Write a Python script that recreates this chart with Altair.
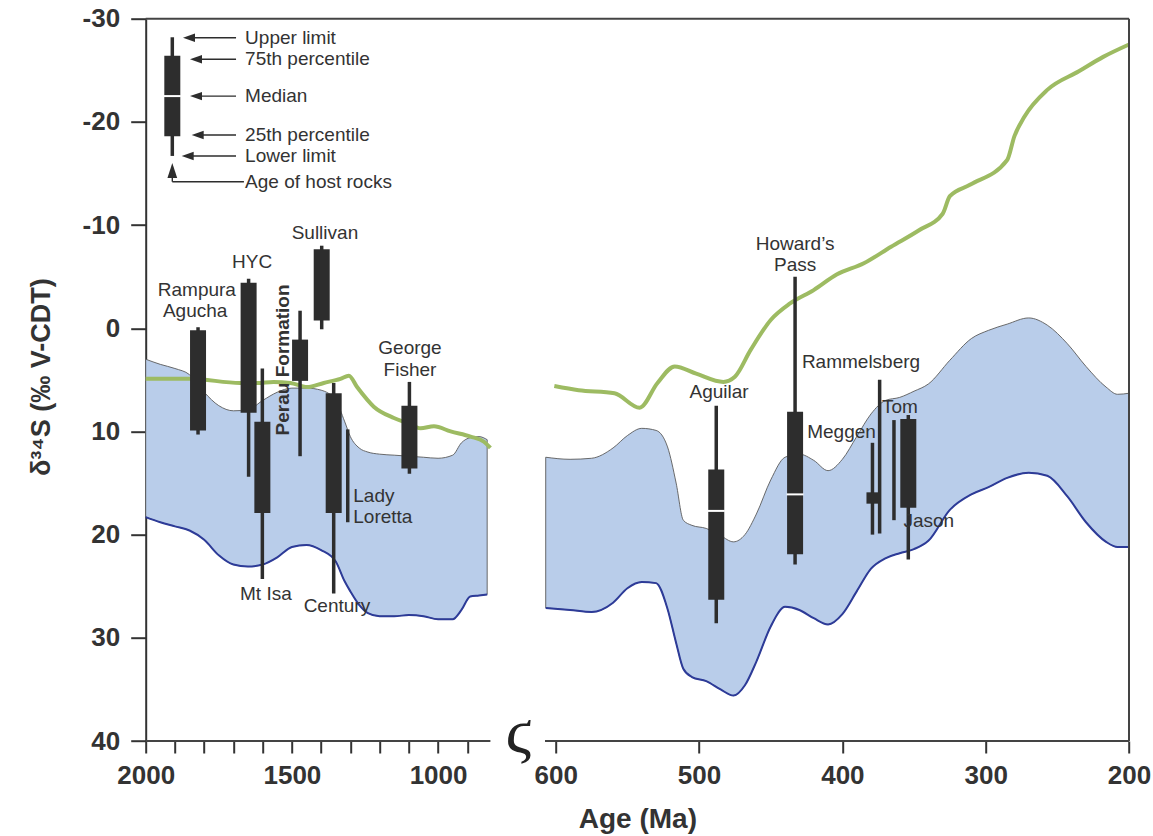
import altair as alt
import pandas as pd

FONT = "Liberation Sans"
INK = "#333333"
BOX = "#2d2d2d"

# ---------------------------------------------------------------- data
# seawater-sulfate band, Proterozoic segment
band_old_age = [2000, 1950, 1900, 1850, 1800, 1750, 1700, 1650, 1600, 1550, 1500, 1450,
                1400, 1350, 1320, 1300, 1270, 1240, 1200, 1150, 1100, 1050, 1000, 950,
                920, 890, 860, 832]
band_old_top = [3.0, 3.5, 3.9, 4.5, 6.2, 7.5, 8.0, 7.9, 7.0, 6.2, 5.8, 5.8,
                6.0, 7.0, 9.0, 10.5, 11.6, 12.0, 12.2, 12.3, 12.4, 12.5, 12.6, 12.3,
                11.1, 10.6, 10.5, 10.8]
band_old_bot = [18.3, 18.8, 19.2, 19.6, 20.5, 22.0, 22.9, 23.1, 22.9, 22.2, 21.2, 21.0,
                21.5, 22.6, 24.5, 25.5, 26.8, 27.6, 27.9, 27.9, 27.8, 27.9, 28.2, 28.2,
                27.3, 26.0, 25.9, 25.8]

# seawater-sulfate band, Phanerozoic segment
band_young_age = [607, 590, 575, 560, 550, 540, 530, 522, 516, 511, 505, 495, 485, 476,
                  468, 460, 450, 440, 430, 420, 410, 400, 390, 380, 370, 360, 350, 340,
                  325, 310, 298, 285, 270, 257, 243, 230, 216, 208, 200]
band_young_top = [12.5, 12.7, 12.6, 11.6, 10.4, 9.7, 9.9, 11.5, 15.0, 18.6, 19.1, 19.4,
                  20.1, 20.7, 20.0, 18.0, 14.7, 12.5, 12.2, 12.8, 13.8, 12.7, 10.5, 8.3,
                  7.0, 6.7, 6.1, 5.4, 3.1, 1.0, 0.2, -0.4, -1.0, -0.3, 1.5, 3.7, 5.7,
                  6.4, 6.3]
band_young_bot = [27.1, 27.3, 27.5, 26.6, 25.2, 24.6, 24.7, 27.2, 30.5, 33.0, 33.8, 34.2,
                  35.0, 35.6, 34.6, 32.3, 28.9, 27.0, 27.3, 28.1, 28.7, 27.7, 25.5, 23.3,
                  22.3, 21.8, 21.4, 20.6, 17.6, 16.1, 15.4, 14.5, 14.0, 14.3, 16.3, 18.8,
                  20.7, 21.2, 21.2]

# green curve
green_old_age = [2000, 1848, 1677, 1619, 1563, 1505, 1448, 1391, 1334, 1305, 1277, 1220,
                 1151, 1105, 1060, 1014, 957, 889, 843, 821]
green_old_val = [4.9, 4.9, 5.3, 5.3, 5.2, 5.3, 5.7, 5.3, 4.9, 4.6, 5.7, 7.6,
                 8.7, 9.2, 9.7, 9.5, 10.0, 10.5, 11.0, 11.6]
green_young_age = [601, 584, 559, 541.5, 529, 517, 502, 483, 475, 464, 450, 436.5, 420,
                   404, 385, 366, 346.5, 330, 325, 311, 285, 280, 273, 257, 235, 218, 200]
green_young_val = [5.6, 6.0, 6.3, 7.7, 5.3, 3.7, 4.4, 5.2, 4.7, 2.1, -0.8, -2.4, -3.7,
                   -5.2, -6.3, -7.9, -9.5, -11.1, -12.8, -13.9, -16.3, -18.6, -20.5,
                   -23.1, -24.9, -26.3, -27.5]

# deposits (first entry is the legend key)
site_name = ["key", "Rampura Agucha", "HYC", "Mt Isa", "Perau Formation", "Sullivan",
             "Century", "Lady Loretta", "George Fisher", "Aguilar", "Howard's Pass",
             "Meggen", "Rammelsberg", "Tom", "Jason"]
site_age = [1909, 1821, 1648, 1601, 1472, 1398, 1357, 1309, 1098, 488, 433, 379, 374, 364, 354]
site_min = [-28.2, -0.1, -4.8, 3.9, -1.7, -8.0, 5.3, 9.8, 5.2, 7.5, -5.0, 11.1, 5.0, 8.9, 8.4]
site_max = [-16.7, 10.3, 14.4, 24.3, 12.4, 0.1, 25.7, 18.8, 14.1, 28.6, 22.9, 20.0, 19.9, 18.6, 22.4]
site_box_top = [-26.4, 0.2, -4.4, 9.05, 1.1, -7.65, 6.3, None, 7.5, 13.7, 8.1, 15.9, None, None, 8.8]
site_box_bot = [-18.6, 9.9, 8.2, 17.9, 5.1, -0.75, 17.9, None, 13.6, 26.3, 21.9, 17.0, None, None, 17.4]
site_median = [-22.5, None, None, None, None, None, None, None, None, 17.7, 16.1, None, None, None, None]
narrow_sites = ["Meggen"]

# deposit labels
label_text = ["Rampura", "Agucha", "HYC", "Sullivan", "George", "Fisher", "Mt Isa", "Century",
              "Aguilar", "Howard\u2019s", "Pass", "Rammelsberg", "Meggen", "Tom", "Jason"]
label_age = [1825, 1831, 1636, 1387, 1096, 1096, 1589, 1346, 486, 433, 433, 387, 400.6, 359.8, 339.7]
label_val = [-3.71, -1.68, -6.38, -9.28, 1.96, 4.04, 25.75, 26.96, 6.22, -8.17, -6.13, 3.31,
             10.1, 7.63, 18.72]
left_label_text = ["Lady", "Loretta"]
left_label_age = [1290, 1290]
left_label_val = [16.25, 18.28]
rot_label_text = ["Perau Formation"]
rot_label_age = [1532]
rot_label_val = [3.07]

# legend key annotations
key_text = ["Upper limit", "75th percentile", "Median", "25th percentile", "Lower limit",
            "Age of host rocks"]
key_text_age = [1660, 1660, 1660, 1660, 1660, 1660]
key_text_val = [-28.16, -26.07, -22.5, -18.73, -16.7, -14.2]
key_arrow_head_age = [1851.9, 1828, 1828, 1822.2, 1856.4]
key_arrow_tail_age = [1691, 1691, 1691, 1691, 1691]
key_arrow_val = [-28.16, -26.07, -22.5, -18.73, -16.7]
host_arrow_age = [1909]
host_arrow_val = [-15.3]
host_line_x1 = [1909, 1909]
host_line_x2 = [1909, 1664]
host_line_y1 = [-14.6, -14.2]
host_line_y2 = [-14.2, -14.2]

# axis ticks
x_tick_values = [2000, 1900, 1800, 1700, 1600, 1500, 1400, 1300, 1200, 1100, 1000, 900,
                 600, 500, 400, 300, 200]
x_label_values = [2000, 1500, 1000, 600, 500, 400, 300, 200]
y_tick_values = [-30, -20, -10, 0, 10, 20, 30, 40]

# broken age axis: [old start, old end, young start, young end]
age_breaks = [2000, 821, 607.5, 200]
frame_x1 = [2000, 200, 2000, 607.5]
frame_x2 = [200, 200, 821, 200]
frame_y1 = [-30, -30, 40, 40]
frame_y2 = [-30, 40, 40, 40]

# ---------------------------------------------------------------- tables
band = pd.concat([
    pd.DataFrame({"age": band_old_age, "top": band_old_top, "bot": band_old_bot, "seg": "old"}),
    pd.DataFrame({"age": band_young_age, "top": band_young_top, "bot": band_young_bot, "seg": "young"}),
])
green = pd.concat([
    pd.DataFrame({"age": green_old_age, "val": green_old_val, "seg": "old"}),
    pd.DataFrame({"age": green_young_age, "val": green_young_val, "seg": "young"}),
])
sites = pd.DataFrame({"name": site_name, "age": site_age, "lo": site_min, "hi": site_max,
                      "bt": site_box_top, "bb": site_box_bot, "med": site_median})
boxes = sites.dropna(subset=["bt"])
wide_boxes = boxes[~boxes["name"].isin(narrow_sites)]
narrow_boxes = boxes[boxes["name"].isin(narrow_sites)]
medians = sites.dropna(subset=["med"])
labels = pd.DataFrame({"t": label_text, "age": label_age, "val": label_val})
left_labels = pd.DataFrame({"t": left_label_text, "age": left_label_age, "val": left_label_val})
rot_labels = pd.DataFrame({"t": rot_label_text, "age": rot_label_age, "val": rot_label_val})
key_labels = pd.DataFrame({"t": key_text, "age": key_text_age, "val": key_text_val})
arrows = pd.DataFrame({"head": key_arrow_head_age, "tail": key_arrow_tail_age, "val": key_arrow_val})
host = pd.DataFrame({"age": host_arrow_age, "val": host_arrow_val})
host_lines = pd.DataFrame({"x1": host_line_x1, "x2": host_line_x2, "y1": host_line_y1, "y2": host_line_y2})
frame = pd.DataFrame({"x1": frame_x1, "x2": frame_x2, "y1": frame_y1, "y2": frame_y2})
brk = pd.DataFrame({"age": [708], "val": [39.3], "t": ["\u03db"]})

# ---------------------------------------------------------------- scales / axes
xs = alt.Scale(domain=age_breaks, range=[0, 344.7, 399.3, 983.3], nice=False, zero=False)
ys = alt.Scale(domain=[-30, 40], reverse=True, nice=False, zero=False)

label_list = ",".join(str(v) for v in x_label_values)
x_axis = alt.Axis(
    values=x_tick_values,
    labelExpr=f"indexof([{label_list}], datum.value) >= 0 ? '' + datum.value : ''",
    domain=False, grid=False, tickSize=12, tickWidth=2, tickColor=INK,
    labelFont=FONT, labelFontSize=26, labelFontWeight="bold", labelColor=INK,
    labelPadding=9, labelOverlap=False, labelFlush=False,
    title="Age (Ma)", titleFont=FONT, titleFontSize=28, titleFontWeight="bold",
    titleColor=INK, titleY=86, titleBaseline="alphabetic",
)
y_axis = alt.Axis(
    values=y_tick_values, labelExpr="'' + datum.value",
    domain=True, domainColor=INK, domainWidth=2, grid=False,
    tickSize=15, tickWidth=2, tickColor=INK,
    labelFont=FONT, labelFontSize=26, labelFontWeight="bold", labelColor=INK,
    labelPadding=11, labelFlush=False,
    title="\u03b4\u00b3\u2074S (\u2030 V-CDT)", titleFont=FONT, titleFontSize=27,
    titleFontWeight="bold", titleColor=INK, titleAngle=270, titleX=-96, titleY=358,
    titleBaseline="alphabetic", titleAlign="center",
)


def X(f):
    return alt.X(f, type="quantitative", scale=xs, axis=x_axis)


def Y(f):
    return alt.Y(f, type="quantitative", scale=ys, axis=y_axis)


# ---------------------------------------------------------------- layers
band_area = alt.Chart(band).mark_area(
    color="#b9cdea", opacity=1, stroke="#5a5a5a", strokeWidth=0.9, interpolate="monotone"
).encode(x=X("age"), y=Y("top"), y2="bot", detail="seg:N")

band_low = alt.Chart(band).mark_line(
    color="#2d3b98", strokeWidth=2, interpolate="monotone"
).encode(x=X("age"), y=Y("bot"), detail="seg:N")

green_line = alt.Chart(green).mark_line(
    color="#9dbb62", strokeWidth=4, interpolate="monotone"
).encode(x=X("age"), y=Y("val"), detail="seg:N")

frame_rules = alt.Chart(frame).mark_rule(color="#444444", strokeWidth=2).encode(
    x=X("x1"), x2="x2", y=Y("y1"), y2="y2")

whiskers = alt.Chart(sites).mark_rule(color=BOX, strokeWidth=3.5).encode(
    x=X("age"), y=Y("lo"), y2="hi")

box_wide = alt.Chart(wide_boxes).mark_rule(color=BOX, strokeWidth=16).encode(
    x=X("age"), y=Y("bt"), y2="bb")
box_narrow = alt.Chart(narrow_boxes).mark_rule(color=BOX, strokeWidth=12).encode(
    x=X("age"), y=Y("bt"), y2="bb")

median_ticks = alt.Chart(medians).mark_tick(
    color="white", orient="horizontal", thickness=2, size=17, opacity=1
).encode(x=X("age"), y=Y("med"))

txt = dict(font=FONT, fontSize=19, color=INK, baseline="middle")
label_layer = alt.Chart(labels).mark_text(align="center", **txt).encode(
    x=X("age"), y=Y("val"), text="t:N")
left_label_layer = alt.Chart(left_labels).mark_text(align="left", **txt).encode(
    x=X("age"), y=Y("val"), text="t:N")
rot_label_layer = alt.Chart(rot_labels).mark_text(
    align="center", angle=270, fontWeight="bold", **txt
).encode(x=X("age"), y=Y("val"), text="t:N")
key_label_layer = alt.Chart(key_labels).mark_text(align="left", **txt).encode(
    x=X("age"), y=Y("val"), text="t:N")

arrow_lines = alt.Chart(arrows).mark_rule(color=BOX, strokeWidth=1.4).encode(
    x=X("head"), x2="tail", y=Y("val"))
arrow_heads = alt.Chart(arrows).mark_point(
    shape="M -1 0 L 1 -0.7 L 1 0.7 Z", filled=True, size=144, color=BOX, opacity=1
).encode(x=X("head"), y=Y("val"))
host_head = alt.Chart(host).mark_point(
    shape="M 0 -1 L 0.65 1 L -0.65 1 Z", filled=True, size=225, color=BOX, opacity=1
).encode(x=X("age"), y=Y("val"))
host_line = alt.Chart(host_lines).mark_rule(color=BOX, strokeWidth=1.4).encode(
    x=X("x1"), x2="x2", y=Y("y1"), y2="y2")

break_mark = alt.Chart(brk).mark_text(
    font="DejaVu Sans", fontSize=64, fontWeight=200, color="#222222",
    align="center", baseline="middle"
).encode(x=X("age"), y=Y("val"), text="t:N")

chart = alt.layer(
    band_area, band_low, green_line, frame_rules, whiskers, box_wide, box_narrow,
    median_ticks, label_layer, left_label_layer, rot_label_layer, key_label_layer,
    arrow_lines, arrow_heads, host_head, host_line, break_mark,
).properties(
    width=983.3, height=722.3,
    autosize=alt.AutoSizeParams(type="none"),
    padding={"left": 145.7, "top": 18.7, "right": 24, "bottom": 95},
    background="white",
).configure_view(stroke=None)

chart.save("out.html", embed_options={"renderer": "svg", "actions": False})
